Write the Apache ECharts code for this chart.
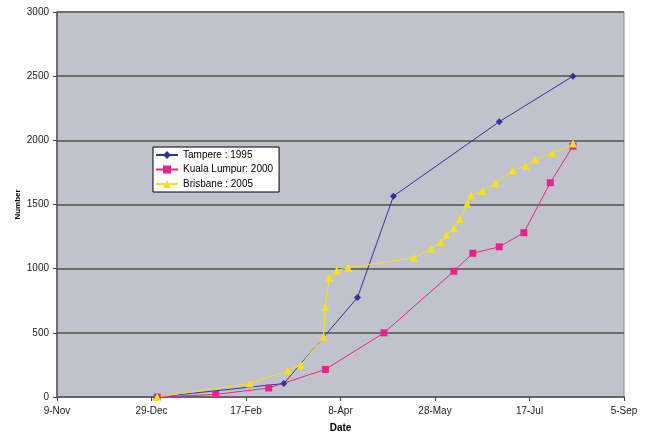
<!DOCTYPE html>
<html>
<head>
<meta charset="utf-8">
<script src="https://cdn.jsdelivr.net/npm/echarts@6/dist/echarts.min.js"></script>
<style>
html,body{margin:0;padding:0;background:#fff;}
#chart{width:650px;height:434px;}
</style>
</head>
<body>
<div id="chart"></div>
<script>
// x values are days counted from 9-Nov
const tickLabels = ['9-Nov', '29-Dec', '17-Feb', '8-Apr', '28-May', '17-Jul', '5-Sep'];
const seriesNames = ['Tampere : 1995', 'Kuala Lumpur: 2000', 'Brisbane : 2005'];

const tampereDays = [53, 120, 159, 178, 234, 273];
const tampereValues = [0, 105, 775, 1565, 2145, 2500];

const klDays = [53, 84, 112, 142, 173, 210, 220, 234, 247, 261, 273];
const klValues = [0, 20, 70, 215, 500, 980, 1120, 1170, 1280, 1670, 1955];

const brisDays = [53, 102, 122, 129, 141, 142, 144, 148, 154, 189, 198, 203, 206, 210, 213, 217, 219, 225, 232, 241, 248, 253, 262, 273];
const brisValues = [0, 105, 205, 250, 470, 700, 930, 985, 1008, 1085, 1155, 1205, 1265, 1315, 1385, 1505, 1570, 1605, 1665, 1765, 1800, 1850, 1900, 1975];

function pairs(xs, ys) { return xs.map((x, i) => [x, ys[i]]); }

const chart = echarts.init(document.getElementById('chart'), null, {renderer: 'canvas'});
const font = '"Liberation Sans", Arial, sans-serif';
chart.setOption({
  animation: false,
  textStyle: {fontFamily: font},
  grid: {
    left: 57, right: 26, top: 12, bottom: 37,
    outerBoundsMode: 'none', containLabel: false,
    show: true, backgroundColor: '#c0c3cb', borderColor: '#8a8a8a', borderWidth: 1
  },
  legend: {
    orient: 'vertical',
    left: 153, top: 147,
    padding: [3, 6, 3, 2],
    itemWidth: 22, itemHeight: 10, itemGap: 4.5,
    backgroundColor: '#ffffff', borderColor: '#000000', borderWidth: 1,
    textStyle: {fontSize: 10, color: '#000', fontFamily: font},
    data: seriesNames
  },
  xAxis: {
    type: 'value', min: 0, max: 300, interval: 50,
    name: 'Date', nameLocation: 'middle', nameGap: 26, nameMoveOverlap: false,
    nameTextStyle: {fontSize: 10, fontWeight: 'bold', color: '#000', fontFamily: font},
    axisLine: {show: true, lineStyle: {color: '#666', width: 2}},
    axisTick: {show: true, length: 4, lineStyle: {color: '#444', width: 1}},
    axisLabel: {fontSize: 10, color: '#222', margin: 9, fontFamily: font,
      formatter: v => tickLabels[Math.round(v / 50)]},
    splitLine: {show: false}
  },
  yAxis: {
    type: 'value', min: 0, max: 3000, interval: 500,
    name: 'Number', nameLocation: 'middle', nameGap: 35, nameMoveOverlap: false,
    nameTextStyle: {fontSize: 8, fontWeight: 'bold', color: '#000', fontFamily: font},
    axisLine: {show: true, lineStyle: {color: '#555', width: 1.5}},
    axisTick: {show: true, length: 4, lineStyle: {color: '#444', width: 1}},
    axisLabel: {fontSize: 10, color: '#222', margin: 8, fontFamily: font,
      formatter: v => String(v)},
    splitLine: {show: true, lineStyle: {color: '#6e6e6e', width: 2}}
  },
  series: [
    {
      name: seriesNames[0], type: 'line', data: pairs(tampereDays, tampereValues),
      symbol: 'diamond', symbolSize: 7,
      lineStyle: {color: '#333399', width: 1},
      itemStyle: {color: '#333399'}
    },
    {
      name: seriesNames[1], type: 'line', data: pairs(klDays, klValues),
      symbol: 'rect', symbolSize: 7,
      lineStyle: {color: '#e8238b', width: 1},
      itemStyle: {color: '#e8238b'}
    },
    {
      name: seriesNames[2], type: 'line', data: pairs(brisDays, brisValues),
      symbol: 'triangle', symbolSize: 8,
      lineStyle: {color: '#f5e01f', width: 1},
      itemStyle: {color: '#f5e01f'}
    }
  ]
});
</script>
</body>
</html>
